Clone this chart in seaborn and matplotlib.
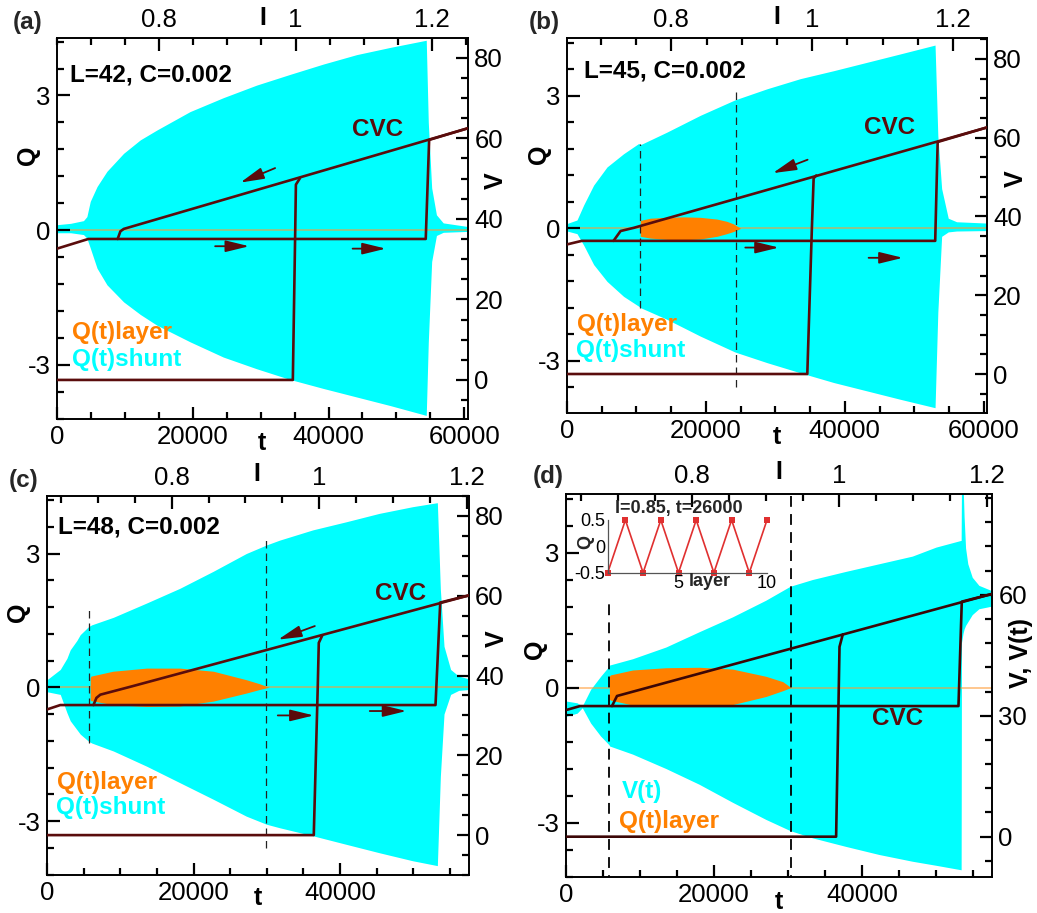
#!/usr/bin/env python3

import seaborn as sns
import matplotlib
matplotlib.use('Agg')
import matplotlib.pyplot as plt
from matplotlib.ticker import MultipleLocator, FuncFormatter

sns.set_theme(style='ticks')
plt.rcParams['font.family'] = ['Liberation Sans', 'DejaVu Sans']
plt.rcParams['axes.unicode_minus'] = False
plt.rcParams['axes.linewidth'] = 1.4
plt.rcParams['axes.axisbelow'] = False

W, H = 1037, 913
CYAN = '#00ffff'
ORANGE = '#ff8000'
PALE = '#ff9933'
BROWN = '#5a0c0c'

# ---------------- (a) L=42 ----------------
t_a = [0, 2000, 3900, 4400, 4900, 5900, 7360, 9810, 12270, 14720, 19600, 24500,
       29400, 34350, 39250, 44160, 49070, 54400, 54700, 55200, 55900, 56900, 60500]
qup_a = [0.12, 0.15, 0.21, 0.30, 0.64, 0.97, 1.31, 1.71, 2.01, 2.23, 2.64, 2.95,
         3.23, 3.47, 3.70, 3.91, 4.07, 4.23, 2.40, 0.94, 0.34, 0.16, 0.08]
qlo_a = [-0.06, -0.06, -0.10, -0.18, -0.40, -0.85, -1.22, -1.60, -1.88, -2.12, -2.49, -2.83,
         -3.09, -3.33, -3.53, -3.72, -3.91, -4.13, -2.50, -0.70, -0.12, -0.05, -0.03]
I_up_a = [0.650, 0.696, 1.191, 1.196, 1.253]
V_up_a = [32.6, 35.0, 35.0, 59.6, 62.5]
I_dn_a = [1.253, 0.748, 0.743, 0.739]
V_dn_a = [62.5, 37.5, 36.9, 35.0]
I_zero_a = [0.650, 0.996, 0.9995, 1.0005, 1.0065]
V_zero_a = [0.0, 0.0, 37.0, 48.5, 50.1]

# ---------------- (b) L=45 ----------------
t_b = [0, 1440, 2400, 3840, 5760, 8150, 10300, 10650, 14400, 19200, 24200, 28800,
       33600, 38400, 43200, 48000, 53000, 53400, 53950, 54900, 56100, 60480]
qup_b = [0.11, 0.19, 0.53, 0.98, 1.39, 1.69, 1.92, 1.90, 2.18, 2.56, 2.91, 3.16,
         3.39, 3.57, 3.76, 3.95, 4.15, 2.10, 0.90, 0.23, 0.15, 0.12]
qlo_b = [-0.06, -0.12, -0.38, -0.82, -1.20, -1.54, -1.76, -1.80, -2.06, -2.44, -2.80, -3.04,
         -3.27, -3.49, -3.68, -3.87, -4.06, -1.90, -0.18, -0.08, -0.06, -0.05]
tl_b = [10550, 12000, 14400, 16800, 19200, 21600, 23000, 24000, 25000]
lup_b = [0.18, 0.23, 0.25, 0.26, 0.25, 0.21, 0.16, 0.10, 0.0]
llo_b = [-0.18, -0.22, -0.25, -0.26, -0.24, -0.18, -0.12, -0.07, 0.0]
I_up_b = [0.652, 0.673, 1.1745, 1.178, 1.248]
V_up_b = [32.9, 33.8, 33.8, 58.9, 62.6]
I_dn_b = [1.248, 0.7466, 0.728, 0.718]
V_dn_b = [62.6, 37.1, 36.3, 33.8]
I_zero_b = [0.652, 0.993, 0.9995, 1.002, 1.0057]
V_zero_b = [0.0, 0.0, 37.1, 49.7, 50.4]
dash_t_b = [10500, 24400]
dash_hi_b = [1.92, 3.12]
dash_lo_b = [-1.80, -3.60]

# ---------------- (c) L=48 ----------------
t_c = [0, 1810, 2720, 3170, 4080, 4535, 5670, 6100, 9070, 13600, 18140, 22680, 27200,
       29930, 31750, 36280, 40800, 45350, 49900, 53290, 53700, 54200, 55100, 56200, 57600]
qup_c = [0.17, 0.40, 0.65, 0.84, 1.05, 1.18, 1.36, 1.40, 1.57, 1.89, 2.22, 2.60, 3.00,
         3.19, 3.30, 3.53, 3.71, 3.90, 4.05, 4.14, 2.20, 0.92, 0.40, 0.25, 0.19]
qlo_c = [-0.10, -0.16, -0.57, -0.75, -0.95, -1.05, -1.21, -1.25, -1.43, -1.77, -2.14, -2.51, -2.89,
         -3.07, -3.15, -3.33, -3.52, -3.71, -3.89, -4.00, -2.00, -0.60, -0.16, -0.07, -0.05]
tl_c = [5900, 6000, 9000, 13600, 18100, 22700, 27200, 29000, 30300]
lup_c = [0.21, 0.25, 0.36, 0.43, 0.43, 0.36, 0.17, 0.08, 0.0]
llo_c = [-0.28, -0.30, -0.39, -0.43, -0.42, -0.31, -0.13, -0.05, 0.0]
I_up_c = [0.631, 0.649, 1.1576, 1.164, 1.203]
V_up_c = [31.5, 32.6, 32.6, 58.3, 60.1]
I_dn_c = [1.203, 0.7463, 0.7033, 0.698, 0.694]
V_dn_c = [60.1, 37.3, 35.2, 34.4, 32.6]
I_zero_c = [0.631, 0.9926, 0.998, 0.9994, 1.004]
V_zero_c = [0.0, 0.0, 37.3, 48.2, 50.0]
dash_t_c = [5670, 29930]
dash_hi_c = [1.74, 3.36]
dash_lo_c = [-1.25, -3.60]

# ---------------- (d) V(t) ----------------
t_d = [0, 1500, 2200, 3330, 4680, 5800, 5900, 9000, 13500, 18000, 22500, 27000, 30300,
       33300, 37800, 42300, 46800, 50000, 53400, 53450, 53650, 53800, 54000, 54300,
       54900, 55800, 57570]
qup_d = [-0.30, -0.34, -0.41, -0.04, 0.25, 0.47, 0.50, 0.64, 0.90, 1.24, 1.57, 1.94, 2.25,
         2.40, 2.58, 2.75, 2.92, 3.12, 3.27, 4.60, 4.60, 3.80, 3.10, 2.75,
         2.45, 2.27, 2.15]
qlo_d = [-0.64, -0.57, -0.45, -0.79, -1.08, -1.27, -1.30, -1.48, -1.80, -2.15, -2.55, -2.93, -3.18,
         -3.34, -3.53, -3.71, -3.86, -3.95, -4.05, 1.00, 1.20, 1.30, 1.38, 1.46,
         1.62, 1.75, 1.81]
tl_d = [5860, 6000, 9010, 13500, 18000, 22500, 27000, 29300, 30400]
lup_d = [0.25, 0.28, 0.39, 0.44, 0.45, 0.41, 0.25, 0.13, 0.0]
llo_d = [-0.26, -0.28, -0.39, -0.41, -0.41, -0.38, -0.20, -0.07, 0.0]
I_up_d = [0.629, 0.648, 1.1615, 1.166, 1.2067]
V_up_d = [31.4, 32.4, 32.4, 58.3, 60.2]
I_dn_d = [1.2067, 0.6982, 0.6914]
V_dn_d = [60.2, 34.9, 32.4]
I_zero_d = [0.629, 0.9955, 1.0001, 1.0046]
V_zero_d = [0.0, 0.0, 47.1, 50.2]
dash_t_d = [5810, 30350]
dash_hi_d = [2.0, 4.4]
dash_lo_d = [-4.4, -4.4]

# inset of (d): charge profile over layers at I=0.85, t=26000
layer_idx = [1, 2, 3, 4, 5, 6, 7, 8, 9, 10]
q_profile = [-0.5, 0.5, -0.5, 0.5, -0.5, 0.5, -0.5, 0.5, -0.5, 0.5]


def gfmt():
    return FuncFormatter(lambda v, p: '%g' % round(v, 6))


def px_rect(x0, y0, x1, y1):
    return [x0 / W, 1 - y1 / H, (x1 - x0) / W, (y1 - y0) / H]


def style_ticks(axis_obj, **kw):
    axis_obj.tick_params(which='both', direction='in', width=1.6, color='black',
                         labelcolor='black', labelsize=18.5, pad=4.5, **kw)
    axis_obj.tick_params(which='major', length=9)
    axis_obj.tick_params(which='minor', length=5)


def make_axes(fig, rect, tlim, qlim, ilim, vlim, tticks, vmajor, vminor):
    ax = fig.add_axes(rect)
    ax2 = fig.add_axes(rect, facecolor='none')

    ax.set_xlim(*tlim)
    ax.set_ylim(*qlim)
    ax.set_xticks(tticks)
    ax.xaxis.set_minor_locator(MultipleLocator(5000))
    ax.yaxis.set_major_locator(MultipleLocator(3))
    ax.yaxis.set_minor_locator(MultipleLocator(0.6))
    ax.xaxis.set_major_formatter(gfmt())
    ax.yaxis.set_major_formatter(gfmt())
    for s in ax.spines.values():
        s.set_color('black')
        s.set_linewidth(1.4)

    ax2.set_xlim(*ilim)
    ax2.set_ylim(*vlim)
    ax2.xaxis.tick_top()
    ax2.yaxis.tick_right()
    ax2.xaxis.set_label_position('top')
    ax2.yaxis.set_label_position('right')
    ax2.xaxis.set_major_locator(MultipleLocator(0.2))
    ax2.xaxis.set_minor_locator(MultipleLocator(0.05))
    ax2.yaxis.set_major_locator(MultipleLocator(vmajor))
    ax2.yaxis.set_minor_locator(MultipleLocator(vminor))
    ax2.xaxis.set_major_formatter(gfmt())
    ax2.yaxis.set_major_formatter(gfmt())
    for s in ax2.spines.values():
        s.set_visible(False)
    return ax, ax2


def finish_ticks(ax, ax2, lims):
    tlim, qlim, ilim, vlim = lims
    ax.set_xlim(*tlim)
    ax.set_ylim(*qlim)
    ax2.set_xlim(*ilim)
    ax2.set_ylim(*vlim)
    ax.set_axisbelow(False)
    ax2.set_axisbelow(False)
    style_ticks(ax, top=False, right=False, bottom=True, left=True,
                labeltop=False, labelright=False, labelbottom=True, labelleft=True)
    style_ticks(ax2, bottom=False, left=False, labelbottom=False, labelleft=False,
                top=True, right=True, labeltop=True, labelright=True)


def shunt_and_layer(ax, t, qup, qlo, tl=None, lup=None, llo=None):
    ax.fill_between(t, qlo, qup, color=CYAN, lw=0, zorder=1)
    ax.axhline(0, color=PALE, lw=1.4, alpha=0.55, zorder=2)
    if tl is not None:
        ax.fill_between(tl, llo, lup, color=ORANGE, lw=0, zorder=3)


def cvc(ax2, branches, color=BROWN):
    for I, V in branches:
        sns.lineplot(x=I, y=V, sort=False, estimator=None, ax=ax2,
                     color=color, lw=1.9, zorder=5)


def arrows(ax2, coords, color=BROWN):
    for i0, v0, i1, v1 in coords:
        ax2.annotate('', xy=(i1, v1), xytext=(i0, v0),
                     arrowprops=dict(arrowstyle='-|>,head_length=0.9,head_width=0.22',
                                     color=color, lw=1.3, mutation_scale=16,
                                     shrinkA=0, shrinkB=0))


def labels(ax, ax2, ylab2, qpos, vpos, tpos, ipos):
    bold = dict(fontsize=18, fontweight='bold', color='black')
    ax.set_ylabel('Q', va='center', ha='center', **bold)
    ax.yaxis.set_label_coords(*qpos)
    ax.set_xlabel('t', va='center', ha='center', **bold)
    ax.xaxis.set_label_coords(*tpos)
    ax2.set_ylabel(ylab2, va='center', ha='center', **bold)
    ax2.yaxis.set_label_coords(*vpos)
    ax2.set_xlabel('I', va='center', ha='center', **bold)
    ax2.xaxis.set_label_coords(*ipos)


def note(ax, x, y, s, color='black', ha='left'):
    ax.text(x, y, s, transform=ax.transAxes, ha=ha, va='center',
            fontsize=17.5, fontweight='bold', color=color, zorder=6)


def main():
    fig = plt.figure(figsize=(W / 100, H / 100), dpi=100)

    # (a)
    lims = ((0, 60550), (-4.21, 4.28), (0.65, 1.253), (-9.7, 84.9))
    ax, ax2 = make_axes(fig, px_rect(57, 38, 468, 419), *lims,
                        [0, 20000, 40000, 60000], 20, 5)
    shunt_and_layer(ax, t_a, qup_a, qlo_a)
    cvc(ax2, [(I_up_a, V_up_a), (I_dn_a, V_dn_a), (I_zero_a, V_zero_a)])
    arrows(ax2, [(0.970, 52.6, 0.919, 49.0), (0.882, 33.2, 0.932, 33.2),
                 (1.0837, 32.6, 1.1325, 32.6)])
    labels(ax, ax2, 'V', (-0.0706, 0.693), (1.068, 0.625), (0.499, -0.063), (0.501, 1.052))
    note(ax, 0.032, 0.903, 'L=42, C=0.002')
    note(ax, 0.779, 0.759, 'CVC', BROWN, 'center')
    note(ax, 0.036, 0.226, 'Q(t)layer', ORANGE)
    note(ax, 0.036, 0.155, 'Q(t)shunt', CYAN)
    finish_ticks(ax, ax2, lims)

    # (b)
    lims = ((0, 60480), (-4.18, 4.31), (0.652, 1.248), (-9.9, 85.3))
    ax, ax2 = make_axes(fig, px_rect(567, 38, 987, 413), *lims,
                        [0, 20000, 40000, 60000], 20, 5)
    shunt_and_layer(ax, t_b, qup_b, qlo_b, tl_b, lup_b, llo_b)
    ax.vlines(dash_t_b, dash_lo_b, dash_hi_b, colors='#222222',
              linestyles=(0, (6, 4)), lw=0.9, zorder=4)
    cvc(ax2, [(I_up_b, V_up_b), (I_dn_b, V_dn_b), (I_zero_b, V_zero_b)])
    arrows(ax2, [(0.9934, 54.4, 0.944, 51.0), (0.905, 32.1, 0.9527, 32.1),
                 (1.080, 29.5, 1.1286, 29.5)])
    labels(ax, ax2, 'V', (-0.067, 0.69), (1.069, 0.624), (0.5, -0.064), (0.5, 1.056))
    note(ax, 0.040, 0.912, 'L=45, C=0.002')
    note(ax, 0.768, 0.760, 'CVC', BROWN, 'center')
    note(ax, 0.024, 0.235, 'Q(t)layer', ORANGE)
    note(ax, 0.021, 0.168, 'Q(t)shunt', CYAN)
    finish_ticks(ax, ax2, lims)

    # (c)
    lims = ((0, 57610), (-4.21, 4.29), (0.631, 1.203), (-10, 85))
    ax, ax2 = make_axes(fig, px_rect(47, 496, 469, 875), *lims,
                        [0, 20000, 40000], 20, 5)
    shunt_and_layer(ax, t_c, qup_c, qlo_c, tl_c, lup_c, llo_c)
    ax.vlines(dash_t_c, dash_lo_c, dash_hi_c, colors='#222222',
              linestyles=(0, (6, 4)), lw=0.9, zorder=4)
    cvc(ax2, [(I_up_c, V_up_c), (I_dn_c, V_dn_c), (I_zero_c, V_zero_c)])
    arrows(ax2, [(0.994, 52.4, 0.9442, 49.0), (0.9438, 30.0, 0.9926, 30.0),
                 (1.0685, 31.1, 1.1182, 31.1)])
    labels(ax, ax2, 'V', (-0.068, 0.693), (1.067, 0.623), (0.5, -0.061), (0.498, 1.058))
    note(ax, 0.026, 0.918, 'L=48, C=0.002')
    note(ax, 0.838, 0.744, 'CVC', BROWN, 'center')
    note(ax, 0.024, 0.245, 'Q(t)layer', ORANGE)
    note(ax, 0.021, 0.179, 'Q(t)shunt', CYAN)
    finish_ticks(ax, ax2, lims)

    # (d)
    lims = ((0, 57570), (-4.21, 4.30), (0.629, 1.207), (-10, 85))
    ax, ax2 = make_axes(fig, px_rect(566, 494, 992, 877), *lims,
                        [0, 20000, 40000], 30, 6)
    shunt_and_layer(ax, t_d, qup_d, qlo_d, tl_d, lup_d, llo_d)
    ax.vlines(dash_t_d, dash_lo_d, dash_hi_d, colors='black',
              linestyles=(0, (6, 4)), lw=1.3, zorder=4)
    cvc(ax2, [(I_up_d, V_up_d), (I_dn_d, V_dn_d), (I_zero_d, V_zero_d)], '#3c0606')
    labels(ax, ax2, 'V, V(t)', (-0.073, 0.595), (1.068, 0.585), (0.5, -0.065), (0.5, 1.057))
    note(ax, 0.779, 0.413, 'CVC', BROWN, 'center')
    note(ax, 0.131, 0.222, 'V(t)', CYAN)
    note(ax, 0.124, 0.144, 'Q(t)layer', ORANGE)
    finish_ticks(ax, ax2, lims)

    # inset in (d)
    ins = fig.add_axes(px_rect(607.7, 520, 767, 572.7), facecolor='none')
    sns.lineplot(x=layer_idx, y=q_profile, ax=ins, color='#e03030', lw=1.2,
                 marker='s', markersize=4, markeredgewidth=0, clip_on=False)
    ins.set_xlim(1, 10)
    ins.set_ylim(-0.5, 0.5)
    ins.set_xticks([5, 10])
    ins.set_yticks([-0.5, 0, 0.5])
    ins.xaxis.set_major_formatter(gfmt())
    ins.yaxis.set_major_formatter(gfmt())
    ins.tick_params(length=0, labelsize=13, pad=2, colors='black')
    for side in ['top', 'right']:
        ins.spines[side].set_visible(False)
    for side in ['left', 'bottom']:
        ins.spines[side].set_color('#555555')
        ins.spines[side].set_linewidth(0.9)
    ins.set_xlabel('layer', fontsize=13, fontweight='bold', va='center', ha='center')
    ins.xaxis.set_label_coords(0.642, -0.16)
    ins.set_ylabel('Q', fontsize=13, fontweight='bold', va='center', ha='center')
    ins.yaxis.set_label_coords(-0.136, 0.59)
    ins.text(0.448, 1.21, 'I=0.85, t=26000', transform=ins.transAxes, ha='center',
             va='center', fontsize=13, fontweight='bold')

    # panel letters
    for (x, y), s in zip([(28, 22), (544, 22), (24, 480), (548, 476)],
                         ['(a)', '(b)', '(c)', '(d)']):
        fig.text(x / W, 1 - y / H, s, ha='center', va='center',
                 fontsize=17.5, fontweight='bold')

    fig.savefig('out.png', dpi=100)
    return 0


if __name__ == '__main__':
    main()
